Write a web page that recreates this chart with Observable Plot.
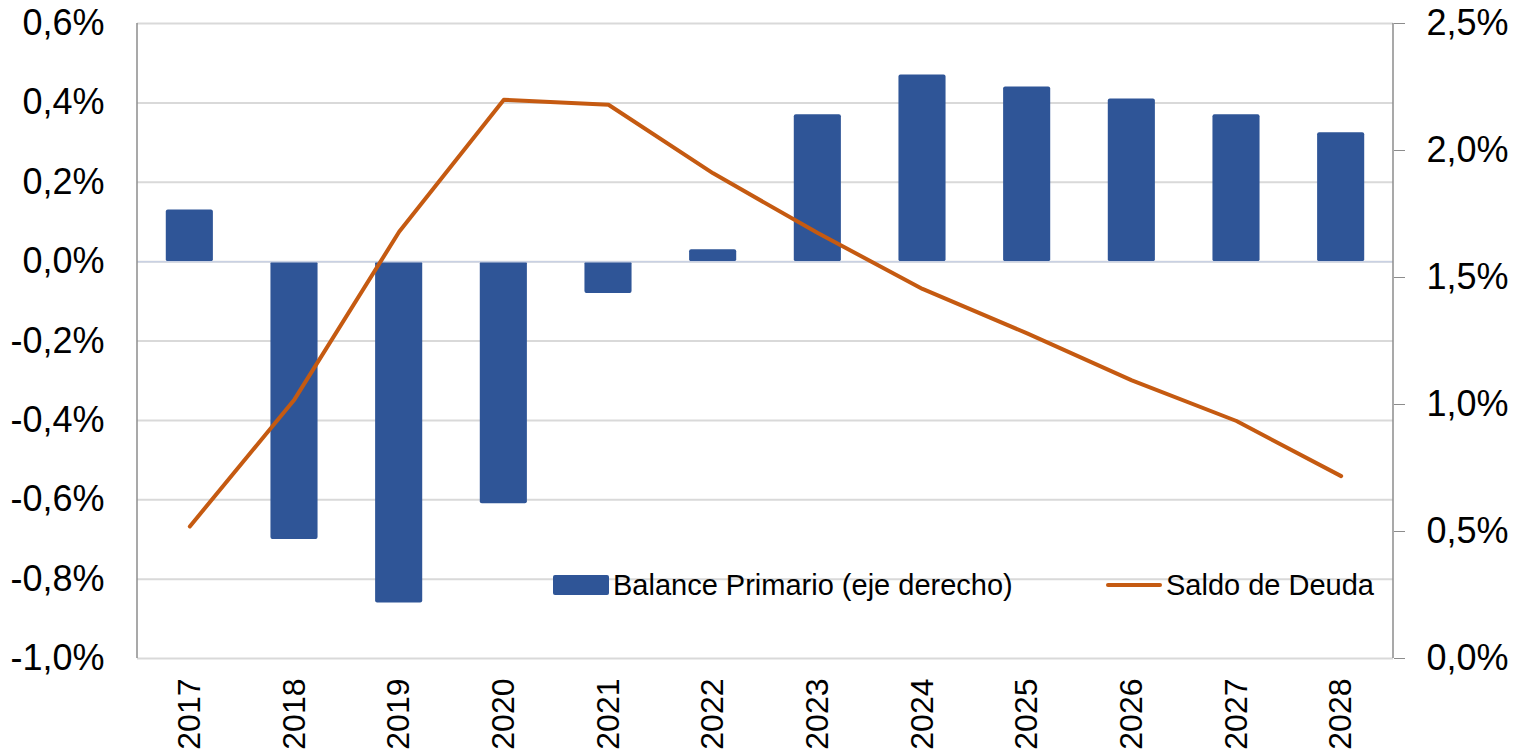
<!DOCTYPE html>
<html>
<head>
<meta charset="utf-8">
<script src="https://cdn.jsdelivr.net/npm/d3@7"></script>
<script src="https://cdn.jsdelivr.net/npm/@observablehq/plot@0.6"></script>
<style>
  html, body { margin: 0; padding: 0; background: #fff; }
  #wrap { position: relative; width: 1524px; height: 756px; font-family: "Liberation Sans", Arial, sans-serif; }
  .legend { position: absolute; top: 568px; display: flex; align-items: center; font-size: 29px; line-height: 34px; color: #000; white-space: nowrap; }
  .sw-bar { width: 56px; height: 20px; background: #2F5597; border-radius: 2px; margin-right: 4px; }
  .sw-line { width: 56px; height: 4px; background: #C55A11; border-radius: 2px; margin-right: 4px; }
</style>
</head>
<body>
<div id="wrap"></div>
<script>
const years = ["2017","2018","2019","2020","2021","2022","2023","2024","2025","2026","2027","2028"];
const balancePrimario = [0.13, -0.70, -0.86, -0.61, -0.08, 0.03, 0.37, 0.47, 0.44, 0.41, 0.37, 0.325];
const saldoDeuda = [0.52, 1.02, 1.68, 2.20, 2.18, 1.91, 1.675, 1.455, 1.28, 1.095, 0.935, 0.718];
const leftTicks = [-1.0, -0.8, -0.6, -0.4, -0.2, 0.0, 0.2, 0.4, 0.6];
const rightTicks = [0.0, 0.5, 1.0, 1.5, 2.0, 2.5];
const seriesNames = ["Balance Primario (eje derecho)", "Saldo de Deuda"];
const colors = ["#2F5597", "#C55A11"];

// map right-axis values onto the left-axis domain
const L0 = -1.0, L1 = 0.6, R0 = 0.0, R1 = 2.5;
const toLeft = v => L0 + (v - R0) * (L1 - L0) / (R1 - R0);
const fromLeft = v => R0 + (v - L0) * (R1 - R0) / (L1 - L0);
const fmt = d => d.toFixed(1).replace(".", ",") + "%";

const bars = years.map((y, i) => ({year: y, value: balancePrimario[i]}));
const line = years.map((y, i) => ({year: y, value: toLeft(saldoDeuda[i])}));

const axisLines = (index, scales, values, dim) => {
  const g = d3.create("svg:g");
  const x0 = dim.marginLeft, x1 = dim.width - dim.marginRight;
  const yT = dim.marginTop, yB = dim.height - dim.marginBottom;
  g.append("line").attr("x1", x0).attr("x2", x0).attr("y1", yT).attr("y2", yB)
    .attr("stroke", "#8c8c8c").attr("stroke-width", 1.5);
  g.append("line").attr("x1", x1).attr("x2", x1).attr("y1", yT).attr("y2", yB)
    .attr("stroke", "#8c8c8c").attr("stroke-width", 1.5);
  return g.node();
};

const chart = Plot.plot({
  width: 1524,
  height: 756,
  marginLeft: 137,
  marginRight: 131,
  marginTop: 23,
  marginBottom: 98,
  style: {fontFamily: "Liberation Sans, Arial, sans-serif", fontSize: "36px", color: "#000", background: "#fff"},
  x: {type: "band", domain: years, paddingInner: 0.55, paddingOuter: 0.275, round: false, label: null},
  y: {domain: [L0, L1], label: null},
  marks: [
    Plot.gridY(leftTicks, {stroke: "#d9d9d9", strokeOpacity: 1, strokeWidth: 2}),
    Plot.barY(bars, {x: "year", y: "value", fill: colors[0], rx: 2}),
    Plot.ruleY([0], {stroke: "#c9d1e3", strokeWidth: 1.5}),
    Plot.line(line, {x: "year", y: "value", stroke: colors[1], strokeWidth: 4, strokeLinejoin: "round", strokeLinecap: "round"}),
    axisLines,
    Plot.axisY({anchor: "left", ticks: leftTicks, tickSize: 0, tickPadding: 33, tickFormat: fmt, fontSize: 36, label: null}),
    Plot.axisY({anchor: "right", ticks: rightTicks.map(toLeft), tickSize: 11, tickPadding: 22,
      tickFormat: d => fmt(Math.round(fromLeft(d) * 10) / 10), stroke: "#8c8c8c", fill: "#000", fontSize: 36, label: null}),
    Plot.axisX({tickRotate: -90, tickSize: 0, tickPadding: 20, fontSize: 32, label: null})
  ]
});

const wrap = document.getElementById("wrap");
wrap.appendChild(chart);

const leg1 = document.createElement("div");
leg1.className = "legend";
leg1.style.left = "553px";
leg1.innerHTML = `<div class="sw-bar"></div><span>${seriesNames[0]}</span>`;
wrap.appendChild(leg1);

const leg2 = document.createElement("div");
leg2.className = "legend";
leg2.style.left = "1106px";
leg2.innerHTML = `<div class="sw-line"></div><span>${seriesNames[1]}</span>`;
wrap.appendChild(leg2);
</script>
</body>
</html>
